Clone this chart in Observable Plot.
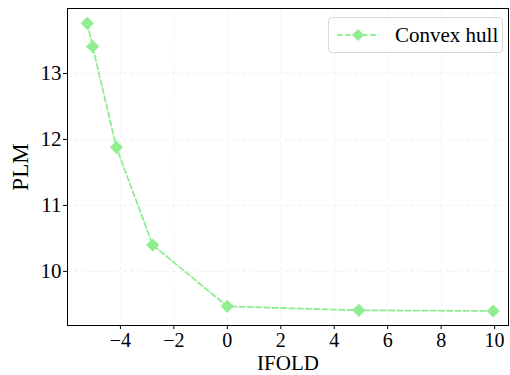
<!DOCTYPE html>
<html><head><meta charset="utf-8">
<script src="https://cdn.jsdelivr.net/npm/d3@7"></script>
<script src="https://cdn.jsdelivr.net/npm/@observablehq/plot@0.6"></script>
<style>
body{margin:0;background:#fff;}
#wrap{position:relative;width:510px;height:375px;font-family:"Liberation Serif","DejaVu Serif",serif;}
#legend{position:absolute;left:328px;top:17px;width:175px;height:36px;box-sizing:border-box;border:1px solid #d9d9d9;border-radius:4px;background:rgba(255,255,255,0.8);display:flex;align-items:center;font-size:21px;color:#000;}
</style></head>
<body><div id="wrap"></div>
<script>
const seriesName = "Convex hull";
const ifold = [-5.24, -5.04, -4.15, -2.79, 0.0, 4.92, 9.95];
const plm = [13.76, 13.41, 11.88, 10.40, 9.47, 9.41, 9.40];
const xTicks = [-4, -2, 0, 2, 4, 6, 8, 10];
const yTicks = [10, 11, 12, 13];
const lineColor = "#90ee90";

const data = ifold.map((x, i) => ({x, y: plm[i]}));
const fmt = d3.format("d");

const plot = Plot.plot({
  width: 510, height: 375,
  marginLeft: 67, marginRight: 2, marginTop: 8, marginBottom: 50,
  style: {fontFamily: '"Liberation Serif", serif', fontSize: "21px", color: "#000", background: "#fff"},
  x: {domain: [-5.98, 10.52], label: null},
  y: {domain: [9.18, 13.985], label: null},
  marks: [
    Plot.gridX(xTicks, {stroke: "#efefef", strokeOpacity: 1, strokeDasharray: "4,3", strokeWidth: 0.8}),
    Plot.gridY(yTicks, {stroke: "#efefef", strokeOpacity: 1, strokeDasharray: "4,3", strokeWidth: 0.8}),
    Plot.axisX(xTicks, {tickSize: 4, tickPadding: 3, tickFormat: fmt, fontSize: 20, label: null}),
    Plot.axisY(yTicks, {tickSize: 4, tickPadding: 2, tickFormat: fmt, fontSize: 21, label: null}),
    Plot.frame({stroke: "#000", strokeWidth: 1}),
    Plot.line(data, {x: "x", y: "y", stroke: lineColor, strokeWidth: 1.8, strokeDasharray: "5.5,2.8"}),
    Plot.dot(data, {x: "x", y: "y", symbol: "diamond2", fill: lineColor, stroke: lineColor, r: 5}),
    Plot.text(["IFOLD"], {frameAnchor: "bottom", lineAnchor: "middle", dy: 38, fontSize: 21, text: d => d}),
    Plot.text(["PLM"], {frameAnchor: "left", textAnchor: "middle", lineAnchor: "middle", dx: -47, rotate: -90, fontSize: 23, text: d => d})
  ]
});
const wrap = document.getElementById("wrap");
wrap.appendChild(plot);
const leg = document.createElement("div");
leg.id = "legend";
leg.innerHTML = `<svg width="52" height="20" style="margin-left:6px"><line x1="2" y1="10" x2="44" y2="10" stroke="${lineColor}" stroke-width="1.8" stroke-dasharray="5.5,2.8"/><path d="M23,4 L29,10 L23,16 L17,10 Z" fill="${lineColor}"/></svg><span style="margin-left:8px">${seriesName}</span>`;
wrap.appendChild(leg);
</script></body></html>
